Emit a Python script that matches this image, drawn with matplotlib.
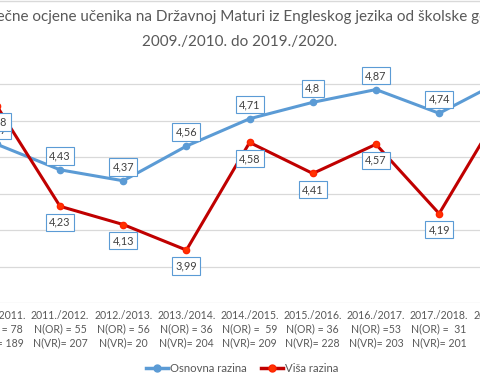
import numpy as np
import matplotlib
matplotlib.use("Agg")
from matplotlib import pyplot as plt
from matplotlib.lines import Line2D

plt.rcParams['font.family'] = ['Lato', 'DejaVu Sans']

years = ['2009./2010.', '2010./2011.', '2011./2012.', '2012./2013.', '2013./2014.',
         '2014./2015.', '2015./2016.', '2016./2017.', '2017./2018.', '2018./2019.',
         '2019./2020.']
n_or = ['N(OR) = ', 'N(OR) = 78', 'N(OR) = 55', 'N(OR) = 56', 'N(OR) = 36',
        'N(OR) =  59', 'N(OR) = 36', 'N(OR) =53', 'N(OR) =  31', 'N(OR) = ', 'N(OR) = ']
n_vr = ['N(VR)= ', 'N(VR)= 189', 'N(VR)= 207', 'N(VR)= 20', 'N(VR)= 204',
        'N(VR)= 209', 'N(VR)= 228', 'N(VR)= 203', 'N(VR)= 201', 'N(VR)= ', 'N(VR)= ']
# first and last school years lie outside the visible crop
osnovna = [np.nan, 4.57, 4.43, 4.37, 4.56, 4.71, 4.8, 4.87, 4.74, 4.92, np.nan]
visa = [np.nan, 4.78, 4.23, 4.13, 3.99, 4.58, 4.41, 4.57, 4.19, 4.77, np.nan]

blue = '#5b9bd5'
red = '#c00000'
txt = '#595959'

fig = plt.figure(figsize=(4.8, 3.85), dpi=100)
ax = fig.add_axes([-0.204, 0.213, 1.448, 0.616])

x = np.arange(len(years))
ax.plot(x, osnovna, color=blue, lw=2.2, marker='o', ms=4.5, mfc=blue, mec=blue,
        solid_capstyle='round', zorder=3)
ax.plot(x, visa, color=red, lw=2.2, marker='o', ms=4.5, mfc='#ff3300', mec='#ff2200',
        solid_capstyle='round', zorder=3)

def fmt(v):
    return ('%g' % v).replace('.', ',')

box = dict(boxstyle='square,pad=0.3', fc='white', ec=blue, lw=0.8)
for i, v in enumerate(osnovna):
    if not np.isnan(v):
        ax.annotate(fmt(v), (i, v), xytext=(0, 14), textcoords='offset pixels',
                    ha='center', va='center', fontsize=7.8, color='#404040',
                    bbox=box, zorder=4, annotation_clip=False)
for i, v in enumerate(visa):
    if not np.isnan(v):
        ax.annotate(fmt(v), (i, v), xytext=(0, -16), textcoords='offset pixels',
                    ha='center', va='center', fontsize=7.8, color='#404040',
                    bbox=box, zorder=4, annotation_clip=False)

ax.set_xlim(-0.5, len(years) - 0.5)
ax.set_ylim(3.7, 5.0)
ax.set_yticks(np.arange(3.7, 4.95, 0.2))
ax.yaxis.grid(True, color='#d9d9d9', lw=0.9)
ax.set_axisbelow(True)
ax.tick_params(axis='y', left=False, labelleft=False)
ax.set_xticks(x)
ax.set_xticklabels([f'{y}\n{a}\n{b}' for y, a, b in zip(years, n_or, n_vr)],
                   fontsize=7.6, color=txt, linespacing=1.3)
ax.tick_params(axis='x', length=0, pad=5)
for s in ax.spines.values():
    s.set_visible(False)

fig.text(0.5, 1 - 17 / 385,
         'Prosječne ocjene učenika na Državnoj Maturi iz Engleskog jezika od školske godine',
         ha='center', va='center', fontsize=11, color=txt)
fig.text(0.5, 1 - 42 / 385, '2009./2010. do 2019./2020.',
         ha='center', va='center', fontsize=11, color=txt)

handles = [Line2D([], [], color=blue, lw=2.5, marker='o', ms=5),
           Line2D([], [], color=red, lw=2.5, marker='o', ms=5, mfc='#ff3300', mec='#ff2200')]
fig.legend(handles, ['Osnovna razina', 'Viša razina'], loc='center',
           bbox_to_anchor=(242 / 480, 1 - 368 / 385), ncol=2, frameon=False,
           fontsize=8.2, labelcolor=txt, handlelength=2.0, handletextpad=0.15,
           columnspacing=1.2)

fig.add_artist(Line2D([0, 1], [0.998, 0.998], color='#d9d9d9', lw=1))

fig.savefig('out.png', dpi=100, facecolor='white')
